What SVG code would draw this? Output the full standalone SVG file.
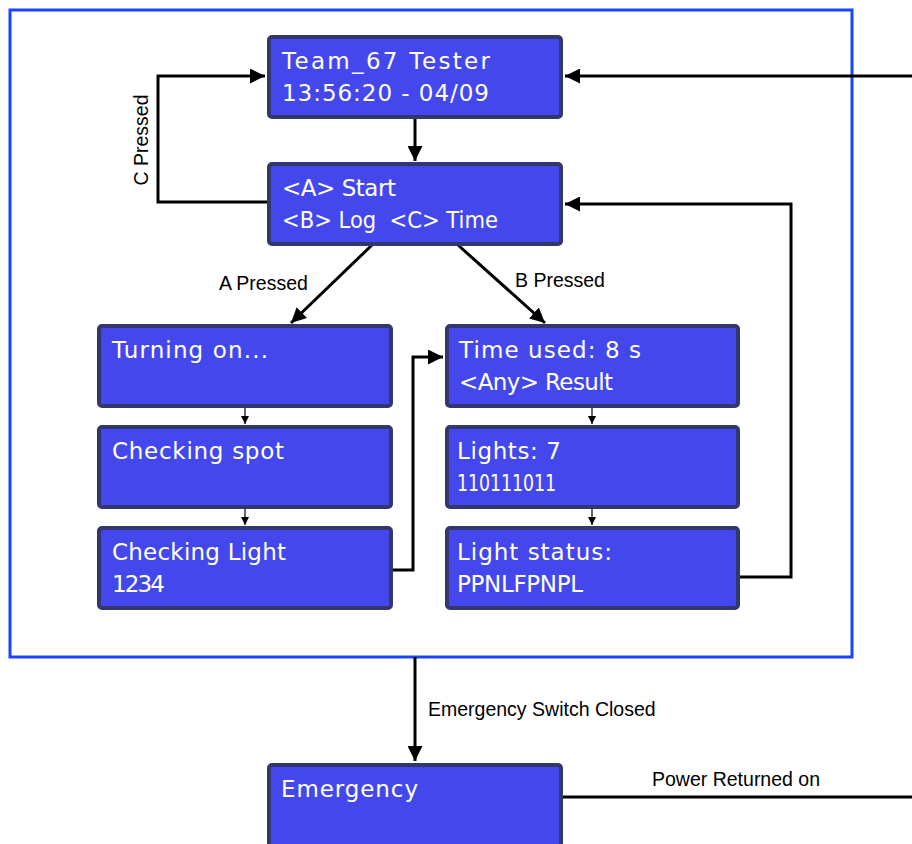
<svg xmlns="http://www.w3.org/2000/svg" width="912" height="844" viewBox="0 0 912 844">
<defs>
<marker id="ah" viewBox="0 0 10 10" refX="10" refY="5" markerWidth="5" markerHeight="5" markerUnits="strokeWidth" orient="auto">
<path d="M0,0 L10,5 L0,10 Z" fill="#000"/>
</marker>
<marker id="ahs" viewBox="0 0 10 10" refX="10" refY="5" markerWidth="7" markerHeight="7" markerUnits="strokeWidth" orient="auto">
<path d="M0,0 L10,5 L0,10 Z" fill="#000"/>
</marker>
</defs>
<style>
.lcd{fill:#4448ec;stroke:#34366e;stroke-width:4}
.lt{font-family:"DejaVu Sans",sans-serif;font-size:23px;fill:#fff}
.lbl{font-family:"Liberation Sans",Arial,sans-serif;font-size:19.5px;fill:#000}
.c{fill:none;stroke:#000;stroke-width:3}
.t{fill:none;stroke:#000;stroke-width:1.2}
</style>
<rect x="10" y="10" width="842" height="647" fill="none" stroke="#1a44ff" stroke-width="3"/>
<g id="connectors">
<path class="c" d="M415,119 V161" marker-end="url(#ah)"/>
<path class="c" d="M912,76 H565" marker-end="url(#ah)"/>
<path class="c" d="M268,202 H158 V76 H265" marker-end="url(#ah)"/>
<path class="c" d="M372,245 L291,323" marker-end="url(#ah)"/>
<path class="c" d="M458,245 L545,323" marker-end="url(#ah)"/>
<path class="c" d="M393,570 H413 V357 H443" marker-end="url(#ah)"/>
<path class="c" d="M740,577 H791 V204 H565" marker-end="url(#ah)"/>
<path class="t" d="M245,408 V424" marker-end="url(#ahs)"/>
<path class="t" d="M245,508 V525" marker-end="url(#ahs)"/>
<path class="t" d="M592,408 V424" marker-end="url(#ahs)"/>
<path class="t" d="M592,508 V525" marker-end="url(#ahs)"/>
<path class="c" d="M415,657 V761" marker-end="url(#ah)"/>
<path class="c" d="M563,797 H912"/>
<text class="lbl" transform="translate(148,140) rotate(-90)" text-anchor="middle">C Pressed</text>
<text class="lbl" x="219" y="290">A Pressed</text>
<text class="lbl" x="515" y="287">B Pressed</text>
<text class="lbl" x="428" y="716">Emergency Switch Closed</text>
<text class="lbl" x="652" y="786">Power Returned on</text>
</g>
<g id="home">
<rect class="lcd" x="269" y="37" width="292" height="80" rx="3"/>
<text class="lt" x="282" y="69" textLength="208">Team_67 Tester</text>
<text class="lt" x="282" y="101" textLength="207">13:56:20 - 04/09</text>
</g>
<g id="menu">
<rect class="lcd" x="269" y="164" width="292" height="80" rx="3"/>
<text class="lt" x="282" y="196" textLength="114">&lt;A&gt; Start</text>
<text class="lt" x="282" y="228" textLength="216" lengthAdjust="spacingAndGlyphs" xml:space="preserve">&lt;B&gt; Log  &lt;C&gt; Time</text>
</g>
<g id="turning">
<rect class="lcd" x="99" y="326" width="292" height="80" rx="3"/>
<text class="lt" x="112" y="358" textLength="156">Turning on...</text>
</g>
<g id="spot">
<rect class="lcd" x="99" y="427" width="292" height="80" rx="3"/>
<text class="lt" x="112" y="459" textLength="172">Checking spot</text>
</g>
<g id="light">
<rect class="lcd" x="99" y="528" width="292" height="80" rx="3"/>
<text class="lt" x="112" y="560" textLength="174">Checking Light</text>
<text class="lt" x="112" y="592" textLength="53">1234</text>
</g>
<g id="timeused">
<rect class="lcd" x="447" y="326" width="291" height="80" rx="3"/>
<text class="lt" x="459" y="358" textLength="182">Time used: 8 s</text>
<text class="lt" x="459" y="390" textLength="154">&lt;Any&gt; Result</text>
</g>
<g id="lights">
<rect class="lcd" x="447" y="427" width="291" height="80" rx="3"/>
<text class="lt" x="457" y="459" textLength="104">Lights: 7</text>
<text class="lt" x="457" y="491" textLength="99" lengthAdjust="spacingAndGlyphs">110111011</text>
</g>
<g id="status">
<rect class="lcd" x="447" y="528" width="291" height="80" rx="3"/>
<text class="lt" x="457" y="560" textLength="155">Light status:</text>
<text class="lt" x="457" y="592" textLength="126">PPNLFPNPL</text>
</g>
<g id="emergency">
<rect class="lcd" x="269" y="765" width="292" height="90" rx="3"/>
<text class="lt" x="281" y="797" textLength="137">Emergency</text>
</g>
</svg>
